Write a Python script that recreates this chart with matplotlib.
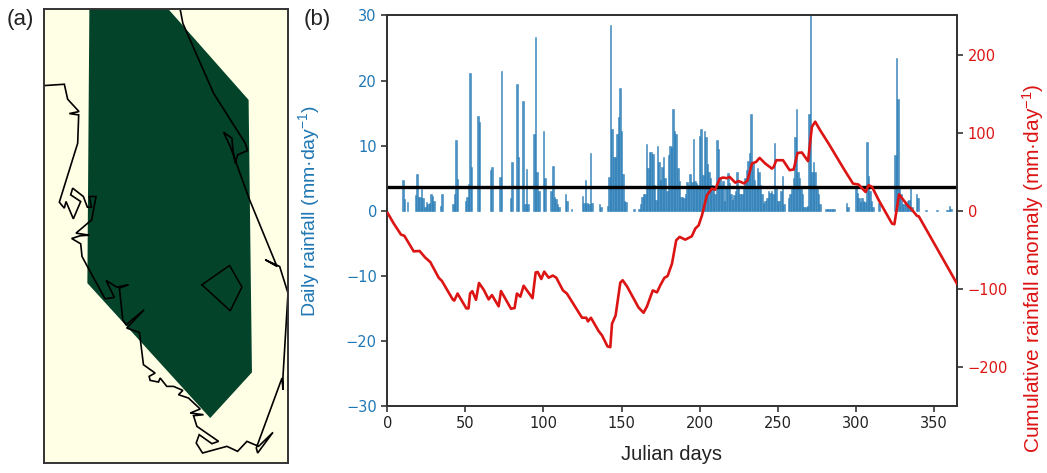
import matplotlib
matplotlib.use("Agg")
import matplotlib.pyplot as plt

SANS = ["Liberation Sans", "DejaVu Sans"]
plt.rcParams["mathtext.default"] = "regular"

# --- Panel (a): map outlines, in map-sheet units
map_extent_x = [133, 863]
map_extent_y = [1390, 28]
region_x = [268, 505, 745, 755, 630, 262]
region_y = [28, 28, 300, 1118, 1255, 850]
coast_x = [133, 193, 203, 237, 208, 236, 233, 178, 193, 198, 220, 242, 212, 218, 250, 262, 274, 268, 288, 275, 228,
           268, 240, 215, 242, 246, 262, 315, 343, 318, 350, 385, 358, 368, 378, 432, 380, 418, 430, 465, 447, 450,
           475, 480, 500, 520, 548, 535, 565, 600, 570, 610, 580, 590, 655, 635, 597, 588, 607, 680, 712, 740, 775,
           818, 772, 768, 845, 848, 848, 863, 838, 795, 830, 748, 690, 670, 695, 698, 705, 712, 742, 735, 640, 548, 540]
coast_y = [257, 253, 298, 335, 341, 345, 430, 607, 625, 605, 657, 605, 585, 565, 590, 622, 622, 590, 590, 660, 700,
           706, 708, 716, 732, 770, 800, 897, 893, 842, 862, 855, 865, 960, 975, 930, 985, 998, 1095, 1120, 1130, 1142,
           1147, 1135, 1160, 1160, 1172, 1185, 1195, 1228, 1240, 1245, 1248, 1280, 1325, 1332, 1305, 1330, 1360, 1340, 1355, 1325, 1340,
           1298, 1360, 1345, 1135, 1170, 1130, 880, 800, 780, 800, 600, 440, 397, 415, 450, 490, 465, 452, 430, 280, 70, 28]
lake_x = [605, 688, 725, 690, 605]
lake_y = [855, 797, 862, 933, 855]

# --- Panel (b): daily rainfall (mm/day)
rain_days = [10, 11, 13, 18, 19, 20, 21, 22, 23, 24, 25, 26, 27, 28, 29, 30, 34, 35, 42, 43, 44, 45, 50, 51, 52, 53, 54,
             58, 59, 66, 67, 72, 73, 79, 80, 83, 84, 87, 88, 89, 90, 94, 95, 96, 97, 100, 101, 105, 106, 107, 108, 109, 110,
             114, 115, 118, 125, 126, 127, 128, 129, 130, 131, 136, 137, 141, 142, 143, 144, 145, 146, 147, 148, 149, 150,
             151, 152, 153, 158, 161, 162, 163, 164, 165, 166, 167, 168, 169, 170, 171, 172, 173, 174, 175, 176, 177, 178,
             179, 180, 181, 182, 183, 184, 185, 186, 187, 188, 189, 190, 191, 192, 193, 194, 195, 196, 197, 198, 199, 200,
             201, 202, 203, 204, 205, 206, 207, 208, 209, 210, 211, 212, 213, 214, 215, 216, 217, 218, 219, 220, 221, 222,
             223, 224, 225, 226, 227, 228, 229, 230, 231, 232, 233, 234, 235, 236, 237, 238, 239, 240, 241, 242, 243, 244,
             245, 246, 247, 248, 249, 250, 251, 252, 253, 254, 257, 258, 259, 260, 261, 262, 263, 264, 265, 266, 267, 268,
             269, 270, 271, 272, 273, 274, 275, 276, 277, 281, 282, 283, 284, 285, 286, 294, 295, 300, 301, 302, 303, 304,
             305, 306, 307, 308, 309, 310, 311, 315, 325, 326, 327, 328, 329, 330, 331, 332, 333, 334, 335, 336, 339, 340,
             345, 352, 358, 359, 360, 361]
rain_mm = [4.7, 1.8, 1.3, 2.4, 5.7, 2.1, 2.1, 3.4, 2.0, 0.5, 1.3, 1.0, 1.2, 2.5, 2.2, 1.5, 0.8, 2.6, 1.0, 2.6, 10.8, 4.9, 1.5, 2.1, 4.1, 21.2, 6.7,
           14.6, 13.7, 6.2, 6.7, 5.2, 21.4, 2.0, 7.5, 19.4, 8.2, 16.8, 1.1, 6.4, 1.0, 11.8, 26.7, 6.0, 3.0, 12.3, 5.0, 3.1, 6.8, 2.1, 1.8, 1.0, 0.5,
           2.6, 1.5, 0.3, 2.2, 1.2, 4.8, 1.2, 1.0, 8.8, 1.2, 1.1, 0.5, 0.8, 5.2, 28.6, 12.5, 8.3, 8.3, 11.8, 14.4, 18.8, 12.3,
           5.7, 1.5, 1.3, 0.2, 0.3, 1.0, 2.1, 2.5, 2.5, 10.3, 6.5, 9.0, 9.0, 8.7, 4.0, 1.6, 9.9, 7.5, 4.7, 6.7, 8.3, 5.0,
           3.0, 8.5, 10.0, 9.8, 15.6, 12.3, 11.8, 6.5, 4.5, 2.1, 2.1, 1.9, 2.5, 4.4, 4.0, 5.7, 4.4, 11.0, 4.5, 4.2, 4.0, 11.5,
           12.5, 5.5, 12.3, 11.4, 7.2, 6.0, 5.0, 4.0, 3.5, 2.5, 10.8, 9.5, 5.0, 4.0, 4.5, 1.5, 3.5, 5.8, 4.2, 2.6, 1.6, 2.4,
           3.0, 6.0, 3.5, 2.5, 2.5, 3.5, 5.0, 6.2, 7.7, 8.9, 14.8, 7.5, 4.7, 3.5, 6.5, 6.0, 4.0, 2.5, 1.2, 1.5, 2.0, 3.0,
           2.8, 3.0, 2.5, 10.4, 3.5, 1.5, 1.5, 3.0, 5.4, 1.0, 2.0, 2.5, 3.5, 5.0, 11.4, 15.6, 6.0, 5.0, 3.8, 2.5, 0.5, 0.6,
           0.8, 14.9, 30.0, 6.0, 7.5, 6.0, 3.8, 2.5, 1.0, 0.2, 0.3, 0.3, 0.3, 0.3, 0.2, 1.2, 0.6, 3.5, 2.7, 2.0, 1.3, 2.0,
           1.5, 1.3, 10.6, 5.4, 3.0, 1.5, 0.5, 1.2, 8.5, 23.5, 17.1, 3.5, 2.5, 1.0, 1.0, 1.0, 1.5, 1.7, 3.7, 0.5, 2.6, 2.0,
           0.1, 0.1, 0.1, 0.1, 0.7, 0.3]
rain_mean = 3.6

# --- Panel (b): cumulative rainfall anomaly
anom_days = [0.2, 4, 8.8, 10.9, 16.9, 20.7, 24.3, 27.5, 32.9, 35, 42, 42.9, 45, 50.6, 52, 53, 54.4, 56.8, 58.7, 61.7, 64.9, 67,
             71.3, 72.8, 79.2, 81.5, 83, 85.2, 87.3, 93, 95, 96.3, 98.6, 100.5, 103.3, 106, 108.2, 112.5, 115, 124.7, 127.4,
             128.5, 130.4, 135.3, 137.5, 141, 142.8, 143.9, 146.2, 149.2, 150.7, 153.5, 160.9, 164.1, 166.3, 170, 172.7, 174.8,
             177.4, 179.5, 182.3, 185, 187.2, 190.8, 195, 197.2, 199.4, 201.5, 204.7, 207.9, 210, 212.8, 214.9, 217.5, 219.2,
             222.8, 224.9, 228.5, 230.7, 233.5, 236.2, 238.4, 242, 246.3, 247.4, 249.1, 253.4, 257.6, 260.2, 262.7, 265.5,
             269.4, 271.9, 274, 277.2, 282.6, 292.2, 298.2, 301.8, 306.3, 308.2, 310.4, 314.7, 323.2, 324.7, 327.7, 333.9, 335,
             339.2, 340.3, 364.8]
anom_vals = [-2.8, -16, -30.6, -32, -52, -51.5, -60, -65.6, -85.7, -90, -113.9, -115, -106, -125, -125, -106, -103, -114, -92.5, -101, -113.5, -108,
             -122.4, -102.8, -125.4, -124.6, -106, -110, -96, -112, -79, -78.4, -87.4, -78, -85.7, -83, -85.7, -102, -106, -137, -137,
             -141.7, -137, -154, -159.6, -173.7, -174.6, -144.6, -134, -92, -89, -96.8, -124, -130.6, -122.4, -102, -104.5, -95.5,
             -86, -83.5, -67.7, -37.8, -33.5, -37, -32.7, -22.9, -18.6, -5.8, 19.9, 28.4, 27, 41, 42.5, 41.7, 43.4,
             36, 38, 35, 39, 60.5, 62.6, 67.7, 60.5, 54, 56, 64.7, 64.7, 52, 52.8, 74, 74.6,
             63.5, 107.5, 114, 103, 86, 54, 34.8, 33.5, 24, 32.7, 30.6, 13.5, -16.5, -17.3, 21, 5, 3.6,
             -6.6, -7, -93.4]

x_ticks = [0, 50, 100, 150, 200, 250, 300, 350]
left_ticks = [-30, -20, -10, 0, 10, 20, 30]
right_ticks = [-200, -100, 0, 100, 200]

W, H = 1047, 473
fig = plt.figure(figsize=(W / 100, H / 100), dpi=100)

def box(l, t, r, b):
    return [l / W, 1 - b / H, (r - l) / W, (b - t) / H]

axm = fig.add_axes(box(44.3, 9.3, 288, 463))
axm.set_facecolor("#FFFFE6")
axm.set_xlim(map_extent_x)
axm.set_ylim(map_extent_y)
axm.fill(region_x, region_y, color="#03432A", lw=0)
axm.plot(coast_x, coast_y, color="black", lw=1.2, solid_joinstyle="miter")
axm.plot(lake_x, lake_y, color="black", lw=1.1)
axm.set_xticks([])
axm.set_yticks([])
for s in axm.spines.values():
    s.set_linewidth(1.4)
    s.set_color("#333333")

ax = fig.add_axes(box(387.3, 15.5, 957.3, 406))
ax.bar(rain_days, rain_mm, width=1.0, color="#1f77b4", edgecolor="#1f77b4", alpha=0.8, lw=0.4)
ax.axhline(rain_mean, color="black", lw=2.4, zorder=4)
ax.set_xlim(0, 365)
ax.set_ylim(-30, 30)
ax.set_xticks(x_ticks)
ax.set_yticks(left_ticks)
ax.tick_params(axis="x", labelsize=10.5, colors="#222222", length=4, width=1.1)
ax.tick_params(axis="y", labelsize=10.5, labelcolor="#1f77b4", color="#222222", length=4, width=1.1)
ax.set_xlabel("Julian days", fontsize=14.5, family=SANS, color="#222222")
ax.xaxis.set_label_coords(0.498, -0.1)
ax.set_ylabel("Daily rainfall (mm·day$^{-1}$)", fontsize=14, family=SANS, color="#1f77b4")
ax.yaxis.set_label_coords(-0.114, 0.5)

axr = ax.twinx()
axr.plot(anom_days, anom_vals, color="#DC1414", lw=1.9, zorder=5)
axr.set_ylim(-250, 250)
axr.set_yticks(right_ticks)
axr.tick_params(axis="y", labelsize=10.5, labelcolor="#DC1414", color="#222222", length=4, width=1.1)
axr.set_ylabel("Cumulative rainfall anomaly (mm·day$^{-1}$)", fontsize=15, family=SANS, color="#DC1414")
axr.yaxis.set_label_coords(1.111, 0.353)
for a in (ax, axr):
    for s in a.spines.values():
        s.set_linewidth(1.3)
        s.set_color("#333333")

fig.text(7 / W, 1 - 25 / H, "(a)", fontsize=16, family=SANS, color="#222222")
fig.text(304 / W, 1 - 25 / H, "(b)", fontsize=16, family=SANS, color="#222222")

fig.savefig("out.png", dpi=100)
